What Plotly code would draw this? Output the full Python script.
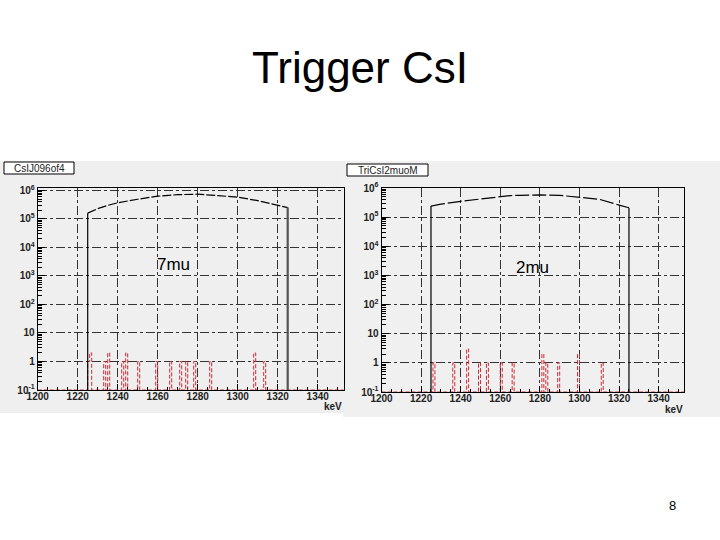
import plotly.graph_objects as go

# ---------------- data ----------------
x_ticks = [1200, 1220, 1240, 1260, 1280, 1300, 1320, 1340]
y_tick_exp_left = [-1, 0, 1, 2, 3, 4, 5, 6]
y_tick_exp_right = [-1, 0, 1, 2, 3, 4, 5, 6]

# left panel (7mu) main black spectrum
black_x_left = [1225, 1230, 1235, 1240, 1250, 1260, 1270, 1280, 1290, 1300, 1310, 1320, 1325]
black_y_left = [1.6e5, 2.3e5, 3.0e5, 3.7e5, 4.9e5, 6.3e5, 7.1e5, 7.4e5, 6.6e5, 5.8e5, 4.4e5, 3.1e5, 2.5e5]
# left panel red (dashed) histogram: 1 keV bins
red_bins_left = [1225, 1226, 1233, 1235, 1242, 1244, 1250, 1259, 1266, 1271, 1274, 1278, 1286, 1308, 1313]
red_counts_left = [1, 2, 1, 2, 1, 2, 1, 1, 1, 1, 1, 1, 1, 2, 1]

# right panel (2mu)
black_x_right = [1225, 1230, 1240, 1250, 1260, 1265, 1270, 1280, 1290, 1300, 1310, 1320, 1325]
black_y_right = [2.4e5, 2.8e5, 3.5e5, 4.2e5, 4.9e5, 5.5e5, 5.6e5, 5.8e5, 5.6e5, 4.9e5, 4.1e5, 2.6e5, 2.1e5]
red_bins_right = [1226, 1236, 1243, 1249, 1253, 1260, 1266, 1281, 1283, 1289, 1299, 1311]
red_counts_right = [1, 1, 3, 1, 1, 1, 1, 2, 1, 1, 2, 1]

# ---------------- figure ----------------
W, H = 720, 540
XR = [1200, 1353]
YR_L = [-1, 6.1]
YR_R = [-1, 6.0]
FONT = "Liberation Sans"


def px(x):
    return x / W


def py(y):
    return 1 - y / H


def sup_label(e):
    if e == 0:
        return "1"
    if e == 1:
        return "10"
    return "10<sup>%d</sup>" % e


def minor_vals(e0, e1):
    v = []
    for e in range(e0, e1 + 1):
        for m in range(2, 10):
            v.append(m * 10 ** e)
    return v


def red_hist(bins, counts, floor):
    edges = list(range(XR[0], XR[1] + 1))
    vals = {b: c for b, c in zip(bins, counts)}
    ys = [vals.get(e, floor) for e in edges]
    return edges, ys


fig = go.Figure()

floor_l = 10 ** YR_L[0]
floor_r = 10 ** YR_R[0]

# ---- left panel traces ----
ex, ey = red_hist(red_bins_left, red_counts_left, floor_l)
fig.add_trace(go.Scatter(x=ex, y=ey, mode="lines", line_shape="hv",
                         line=dict(color="#d02a35", width=1, dash="4px,2px"),
                         xaxis="x", yaxis="y", hoverinfo="skip"))
fig.add_trace(go.Scatter(x=black_x_left, y=black_y_left, mode="lines",
                         line=dict(color="black", width=1.2, dash="9px,2px"),
                         xaxis="x", yaxis="y", hoverinfo="skip"))
fig.add_trace(go.Scatter(x=[black_x_left[0], black_x_left[0]], y=[floor_l, black_y_left[0]],
                         mode="lines", line=dict(color="black", width=1.2),
                         xaxis="x", yaxis="y", hoverinfo="skip"))
fig.add_trace(go.Scatter(x=[black_x_left[-1], black_x_left[-1]], y=[black_y_left[-1], floor_l],
                         mode="lines", line=dict(color="#555555", width=2.2),
                         xaxis="x", yaxis="y", hoverinfo="skip"))

# ---- right panel traces ----
ex, ey = red_hist(red_bins_right, red_counts_right, floor_r)
fig.add_trace(go.Scatter(x=ex, y=ey, mode="lines", line_shape="hv",
                         line=dict(color="#d02a35", width=1, dash="4px,2px"),
                         xaxis="x2", yaxis="y2", hoverinfo="skip"))
fig.add_trace(go.Scatter(x=black_x_right, y=black_y_right, mode="lines",
                         line=dict(color="black", width=1.2, dash="14px,3px"),
                         xaxis="x2", yaxis="y2", hoverinfo="skip"))
fig.add_trace(go.Scatter(x=[black_x_right[0], black_x_right[0]], y=[floor_r, black_y_right[0]],
                         mode="lines", line=dict(color="black", width=1.2),
                         xaxis="x2", yaxis="y2", hoverinfo="skip"))
fig.add_trace(go.Scatter(x=[black_x_right[-1], black_x_right[-1]], y=[black_y_right[-1], floor_r],
                         mode="lines", line=dict(color="black", width=1.2),
                         xaxis="x2", yaxis="y2", hoverinfo="skip"))

tickfont = dict(family=FONT, size=10, color="#222222", weight="bold")


def xaxis_cfg(dom, anchor, layer):
    return dict(domain=dom, anchor=anchor, range=XR, tickvals=x_ticks,
                ticktext=[str(t) for t in x_ticks], tickfont=tickfont,
                ticks="inside", ticklen=6, tickcolor="black",
                showline=True, mirror=True, linecolor="black", linewidth=1,
                showgrid=True, gridcolor="#333333", gridwidth=1, griddash="dashdot",
                zeroline=False, layer=layer, automargin=False,
                ticklabelstandoff=-3,
                minor=dict(dtick=5, ticks="inside", ticklen=3, tickcolor="black", showgrid=False))


def yaxis_cfg(dom, anchor, yr, exps):
    return dict(domain=dom, anchor=anchor, type="log", range=yr,
                tickvals=[10 ** e for e in exps], ticktext=[sup_label(e) for e in exps],
                tickfont=tickfont, ticks="inside", ticklen=7, tickcolor="black",
                showline=True, mirror=True, linecolor="black", linewidth=1,
                showgrid=True, gridcolor="#333333", gridwidth=1, griddash="dashdot",
                zeroline=False, automargin=False,
                minor=dict(tickvals=minor_vals(-1, 5), ticks="inside", ticklen=4,
                           tickcolor="black", showgrid=False))


shapes = [
    dict(type="rect", xref="paper", yref="paper", x0=px(0), x1=px(344), y0=py(413), y1=py(161),
         fillcolor="#efefef", line=dict(width=0), layer="below"),
    dict(type="rect", xref="paper", yref="paper", x0=px(343), x1=px(720), y0=py(417), y1=py(161),
         fillcolor="#f0f0f0", line=dict(width=0), layer="below"),
    dict(type="rect", xref="paper", yref="paper", x0=px(4), x1=px(74), y0=py(174), y1=py(162),
         fillcolor="white", line=dict(color="black", width=1)),
    dict(type="rect", xref="paper", yref="paper", x0=px(347), x1=px(428), y0=py(176), y1=py(164),
         fillcolor="white", line=dict(color="black", width=1)),
]

annotations = [
    dict(text="Trigger CsI", x=px(360), y=py(68), xref="paper", yref="paper",
         showarrow=False, font=dict(family=FONT, size=44, color="black"),
         xanchor="center", yanchor="middle"),
    dict(text="CsIJ096of4", x=px(39), y=py(168), xref="paper", yref="paper",
         showarrow=False, font=dict(family=FONT, size=10, color="#222"),
         xanchor="center", yanchor="middle"),
    dict(text="TriCsI2muoM", x=px(388), y=py(170), xref="paper", yref="paper",
         showarrow=False, font=dict(family=FONT, size=10, color="#222"),
         xanchor="center", yanchor="middle"),
    dict(text="7mu", x=px(173), y=py(264), xref="paper", yref="paper",
         showarrow=False, font=dict(family=FONT, size=17, color="black"),
         xanchor="center", yanchor="middle"),
    dict(text="2mu", x=px(532), y=py(268), xref="paper", yref="paper",
         showarrow=False, font=dict(family=FONT, size=17, color="black"),
         xanchor="center", yanchor="middle"),
    dict(text="keV", x=px(333), y=py(406), xref="paper", yref="paper",
         showarrow=False, font=dict(family=FONT, size=10, color="#222", weight="bold"),
         xanchor="center", yanchor="middle"),
    dict(text="keV", x=px(674), y=py(409), xref="paper", yref="paper",
         showarrow=False, font=dict(family=FONT, size=10, color="#222", weight="bold"),
         xanchor="center", yanchor="middle"),
    dict(text="8", x=px(672), y=py(505), xref="paper", yref="paper",
         showarrow=False, font=dict(family=FONT, size=13, color="black"),
         xanchor="center", yanchor="middle"),
]

fig.update_layout(
    width=W, height=H, autosize=False,
    margin=dict(l=0, r=0, t=0, b=0, pad=0, autoexpand=False),
    paper_bgcolor="white", plot_bgcolor="rgba(0,0,0,0)",
    showlegend=False,
    xaxis=xaxis_cfg([px(37.7), px(343.7)], "y", "below traces"),
    yaxis=yaxis_cfg([py(390), py(187.6)], "x", YR_L, y_tick_exp_left),
    xaxis2=xaxis_cfg([px(381.5), px(684.4)], "y2", "above traces"),
    yaxis2=yaxis_cfg([py(392), py(188)], "x2", YR_R, y_tick_exp_right),
    shapes=shapes, annotations=annotations,
)

fig.write_html(
    "out.html",
    config={"responsive": False, "displayModeBar": False},
    post_script="document.body.style.margin='0';document.body.style.overflow='hidden';",
)
